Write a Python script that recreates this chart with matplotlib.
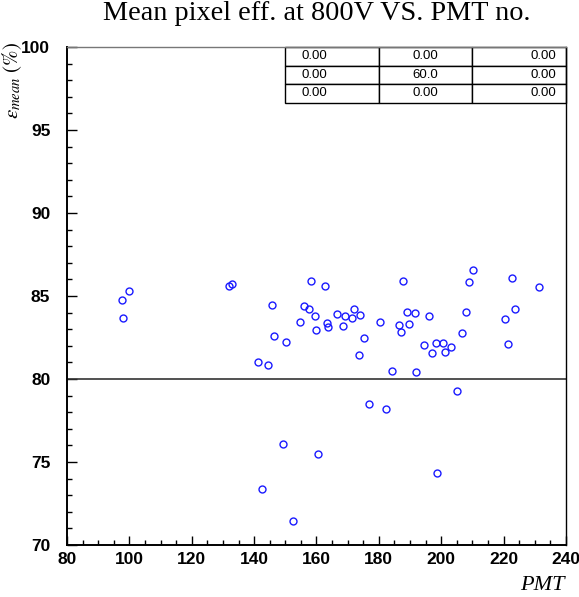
"""Mean pixel efficiency at 800V versus PMT number."""

import numpy as np
import matplotlib
matplotlib.use("Agg")
import matplotlib.pyplot as plt
from matplotlib.ticker import MultipleLocator

# ── Data ─────────────────────────────────────────────────────────────

pmt = [
    97.7, 98.0, 99.9, 131.8, 132.9, 141.3, 144.5, 142.4, 145.6, 146.4,
    149.4, 150.3, 152.4, 154.6, 156.1, 157.7, 158.1, 159.6, 159.7, 160.6,
    162.7, 163.5, 163.7, 166.7, 168.6, 169.1, 171.5, 171.9, 173.6, 174.1,
    175.2, 176.7, 180.3, 182.4, 184.1, 186.4, 187.1, 187.7, 189.1, 189.7,
    191.5, 192.0, 194.6, 196.0, 197.2, 198.2, 200.5, 201.3, 203.1, 205.1,
    206.7, 207.9, 208.9, 210.2, 198.8, 220.4, 221.5, 222.7, 223.8, 231.2,
]
eff_mean = [
    84.78, 83.69, 85.32, 85.58, 85.70, 81.01, 80.86, 73.37, 84.48, 82.61,
    76.07, 82.23, 71.46, 83.43, 84.40, 84.20, 85.89, 83.78, 82.95, 75.50,
    85.58, 83.36, 83.15, 83.92, 83.17, 83.80, 83.69, 84.23, 81.43, 83.86,
    82.47, 78.51, 83.45, 78.19, 80.46, 83.23, 82.85, 85.89, 84.02, 83.31,
    83.98, 80.42, 82.03, 83.78, 81.55, 82.19, 82.15, 81.64, 81.93, 79.26,
    82.75, 84.04, 85.83, 86.55, 74.34, 83.63, 82.09, 86.10, 84.23, 85.52,
]
threshold = 80.0

table_cells = [
    ["0.00", "0.00", "0.00"],
    ["0.00", "60.0", "0.00"],
    ["0.00", "0.00", "0.00"],
]
col_align = ["left", "center", "right"]

# ── Figure ───────────────────────────────────────────────────────────

plt.rcParams["mathtext.fontset"] = "stix"

fig = plt.figure(figsize=(5.79, 5.97), dpi=100)
ax = fig.add_axes([0.1157, 0.0871, 0.8618, 0.8342])

ax.plot(pmt, eff_mean, linestyle="none", marker="o", markersize=5,
        markerfacecolor="none", markeredgecolor="#1a1aff", markeredgewidth=1.0)
ax.axhline(threshold, color="#333333", linewidth=1.2)

ax.set_xlim(80, 240)
ax.set_ylim(70, 100)
ax.xaxis.set_major_locator(MultipleLocator(20))
ax.xaxis.set_minor_locator(MultipleLocator(5))
ax.yaxis.set_major_locator(MultipleLocator(5))
ax.yaxis.set_minor_locator(MultipleLocator(1))
ax.tick_params(which="both", direction="in", top=False, right=False,
               width=1.0, color="black")
ax.tick_params(axis="y", which="major", length=7.2, pad=12)
ax.tick_params(axis="y", which="minor", length=3.6)
ax.tick_params(axis="x", which="major", length=6.5, pad=5)
ax.tick_params(axis="x", which="minor", length=3.4)
for lab in ax.get_xticklabels() + ax.get_yticklabels():
    lab.set_fontfamily("Liberation Sans")
    lab.set_fontweight("bold")
    lab.set_fontsize(12.5)
for side in ("left", "bottom"):
    ax.spines[side].set_linewidth(1.4)
ax.spines["right"].set_linewidth(1.0)
ax.spines["top"].set_linewidth(1.0)
ax.spines["top"].set_color("#777777")

# Stats box in the upper-right corner
tbl = ax.table(cellText=table_cells, bbox=[0.4378, 0.888, 0.5622, 0.112])
tbl.auto_set_font_size(False)
for (r, c), cell in tbl.get_celld().items():
    cell.set_linewidth(1.0)
    cell.set_edgecolor("black")
    cell._loc = col_align[c]
    cell.PAD = 0.17 if c == 0 else 0.1
    cell.get_text().set_ha(col_align[c])
    cell.get_text().set_fontfamily("Liberation Sans")
    cell.get_text().set_fontsize(9.5)

fig.text(0.5466, 0.978, "Mean pixel eff. at 800V VS. PMT no.",
         ha="center", va="center", fontfamily="Liberation Serif", fontsize=20.3)
fig.text(0.021, 0.93, r"$\varepsilon_{mean}\ (\%)$", rotation=90,
         ha="center", va="top", fontsize=15)
fig.text(0.976, 0.0117, "PMT", ha="right", va="baseline",
         fontfamily="Liberation Serif", fontstyle="italic", fontsize=16)

fig.savefig("out.png", dpi=100)
